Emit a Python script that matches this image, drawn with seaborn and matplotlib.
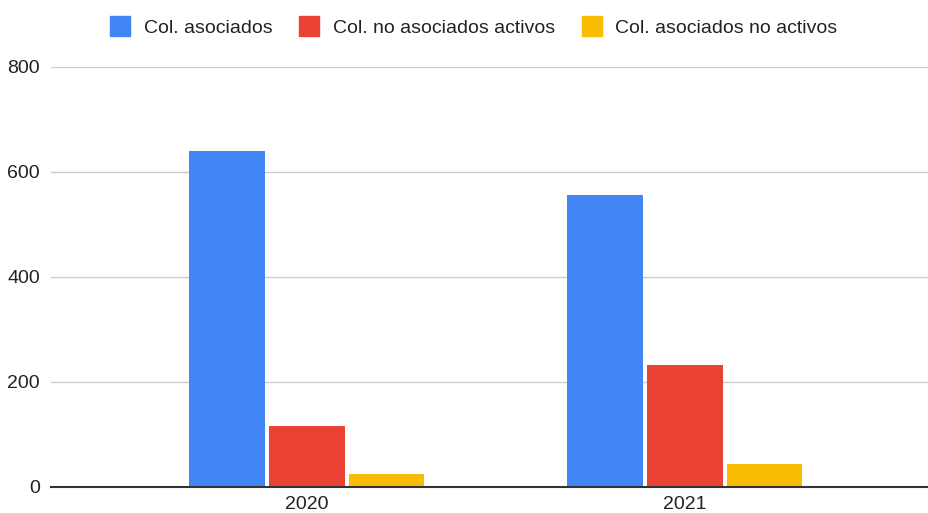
import seaborn as sns
import pandas as pd
import matplotlib.pyplot as plt
from matplotlib.lines import Line2D

# values
years = ['2020', '2021']
series = ['Col. asociados', 'Col. no asociados activos', 'Col. asociados no activos']
asociados = [640, 555]
no_asociados_activos = [115, 232]
asociados_no_activos = [24, 43]
colors = ['#4285F4', '#EA4335', '#FBBC04']

# long format table for seaborn
rows = []
for name, vals in zip(series, [asociados, no_asociados_activos, asociados_no_activos]):
    for y, v in zip(years, vals):
        rows.append({'year': y, 'serie': name, 'value': v})
data = pd.DataFrame(rows)

sns.set_style('white')
plt.rcParams['font.family'] = ['Liberation Sans', 'DejaVu Sans']

fig = plt.figure(figsize=(9.29, 5.13), dpi=100)
ax = fig.add_axes([51 / 929, 1 - 486.7 / 513, (928 - 51) / 929, (486.7 - 66.7) / 513])

sns.barplot(data=data, x='year', y='value', hue='serie', hue_order=series,
            palette=colors, width=0.632, gap=0.05, saturation=1,
            edgecolor='none', linewidth=0, ax=ax, legend=False)

ax.set_ylim(0, 800)
ax.set_yticks([0, 200, 400, 600, 800])
ax.set_xlim(-0.677, 1.643)
ax.set_xlabel('')
ax.set_ylabel('')

ax.yaxis.grid(True, color='#cccccc', linewidth=1)
ax.set_axisbelow(True)
for s in ['left', 'right', 'top']:
    ax.spines[s].set_visible(False)
ax.spines['bottom'].set_color('#333333')
ax.spines['bottom'].set_linewidth(1.5)
ax.spines['bottom'].set_zorder(5)

ax.tick_params(axis='both', length=0, labelsize=14, colors='#222222')
ax.tick_params(axis='y', pad=8)
ax.tick_params(axis='x', pad=7)

handles = [Line2D([], [], marker='s', linestyle='none', markersize=14.4,
                  markerfacecolor=c, markeredgecolor=c) for c in colors]
fig.legend(handles, series, loc='center', bbox_to_anchor=(0.51, 0.946), ncol=3,
           frameon=False, fontsize=14, handlelength=1.0, handletextpad=0.7,
           columnspacing=1.4, labelcolor='#222222')

fig.savefig('out.png', dpi=100)
